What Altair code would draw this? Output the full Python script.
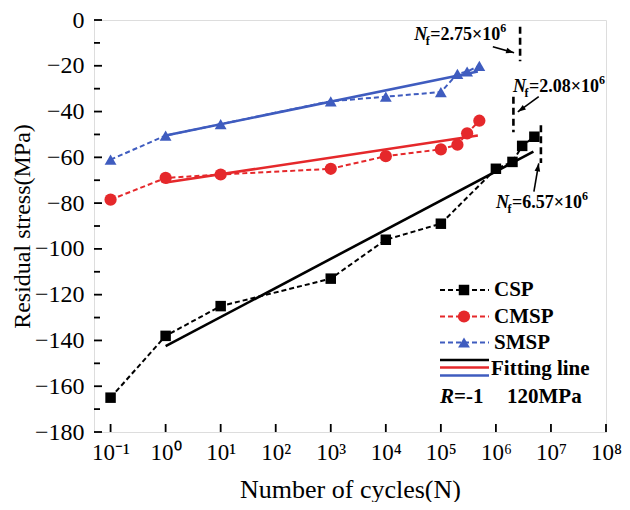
import json
import altair as alt
import pandas as pd

FONT = "Liberation Serif"
BLACK = "#000000"
RED = "#e5282b"
BLUE = "#3f5cbf"

# ---------------- data ----------------
csp_n = [0.1, 1, 10, 1e3, 1e4, 1e5, 1e6, 2e6, 3e6, 5e6]
csp_s = [-165, -138, -125, -113, -96, -89, -65, -62, -55, -51]
cmsp_n = [0.1, 1, 10, 1e3, 1e4, 1e5, 2e5, 3e5, 5e5]
cmsp_s = [-78.5, -69, -67.5, -65, -59.5, -56.5, -54.5, -49.5, -44]
smsp_n = [0.1, 1, 10, 1e3, 1e4, 1e5, 2e5, 3e5, 5e5]
smsp_s = [-61, -50.5, -45.5, -35.5, -33.5, -31.5, -23.5, -22.5, -20]

fit_csp_n = [1, 4.8e6]
fit_csp_s = [-142.5, -57.5]
fit_cmsp_n = [1, 4.7e5]
fit_cmsp_s = [-71, -50.5]
fit_smsp_n = [1, 4.7e5]
fit_smsp_s = [-50.5, -22.5]

nf_values = [6.57e6, 2.08e6, 2.75e6]
nf_top = [-46, -33.5, -3]
nf_bottom = [-62.5, -49, -18]
nf_mantissa = ["6.57", "2.08", "2.75"]
nf_label_n = [1.0e6, 2.04e6, 3.3e4]
nf_label_s = [-82, -31.3, -8.7]
arrow_start_n = [4.9e6, 6.0e6, 8.8e5]
arrow_start_s = [-75, -33.5, -11.7]
arrow_end_n = [6.0e6, 2.5e6, 2.14e6]
arrow_end_s = [-62.6, -40.1, -14.3]
arrow_angle = [10, 235, 106]

x_ticks = [0.1, 1, 10, 1e2, 1e3, 1e4, 1e5, 1e6, 1e7, 1e8]
x_tick_labels = ["10⁻¹", "10⁰", "10¹", "10²", "10³", "10⁴", "10⁵", "10⁶", "10⁷", "10⁸"]
y_major = [0, -20, -40, -60, -80, -100, -120, -140, -160, -180]
y_minor = [-10, -30, -50, -70, -90, -110, -130, -150, -170]

legend_labels = ["CSP", "CMSP", "SMSP"]

# ---------------- scales & axes ----------------
W, H = 512, 412
xs = alt.Scale(type="log", domain=[0.05, 1e8], nice=False)
ys = alt.Scale(domain=[-180, 0], nice=False, zero=False)

label_js = json.dumps(x_tick_labels, ensure_ascii=False)
xaxis = alt.Axis(
    values=x_ticks, ticks=False, domain=False, grid=False,
    labelExpr=f"{label_js}[round(log(datum.value)/LN10)+1]",
    labelFont=FONT, labelFontSize=23, labelFontWeight="normal", labelColor="black",
    labelPadding=9, labelFlush=False, labelOverlap=False,
    title="Number of cycles(N)", titleFont=FONT, titleFontSize=26,
    titleFontWeight="normal", titleColor="black", titleY=57, titleBaseline="middle",
)
yaxis = alt.Axis(
    values=y_major, ticks=False, domain=False, grid=False,
    labelFont=FONT, labelFontSize=24, labelFontWeight="normal", labelColor="black",
    labelPadding=10, labelFlush=False, labelOverlap=False,
    title="Residual stress(MPa)", titleFont=FONT, titleFontSize=24,
    titleFontWeight="normal", titleColor="black", titleX=-72, titleBaseline="middle",
)


def X(field):
    return alt.X(field, type="quantitative", scale=xs, axis=xaxis)


def Y(field):
    return alt.Y(field, type="quantitative", scale=ys, axis=yaxis)


layers = []

# inside ticks
layers.append(alt.Chart(pd.DataFrame({"s": y_major})).mark_rule(color="black", strokeWidth=1.8)
              .encode(y=Y("s"), x=alt.value(0), x2=alt.value(8)))
layers.append(alt.Chart(pd.DataFrame({"s": y_minor})).mark_rule(color="black", strokeWidth=1.8)
              .encode(y=Y("s"), x=alt.value(0), x2=alt.value(6)))
layers.append(alt.Chart(pd.DataFrame({"n": x_ticks})).mark_rule(color="black", strokeWidth=1.8)
              .encode(x=X("n"), y=alt.value(H), y2=alt.value(H - 8)))

# fitting lines
for fn, fs, col in [(fit_csp_n, fit_csp_s, BLACK), (fit_cmsp_n, fit_cmsp_s, RED), (fit_smsp_n, fit_smsp_s, BLUE)]:
    layers.append(alt.Chart(pd.DataFrame({"n": fn, "s": fs})).mark_line(color=col, strokeWidth=2.6)
                  .encode(x=X("n"), y=Y("s")))

# measured series
for n, s, col, shape, size in [
    (csp_n, csp_s, BLACK, "square", 110),
    (cmsp_n, cmsp_s, RED, "circle", 150),
    (smsp_n, smsp_s, BLUE, "triangle-up", 140),
]:
    base = alt.Chart(pd.DataFrame({"n": n, "s": s}))
    layers.append(base.mark_line(color=col, strokeWidth=2, strokeDash=[5, 3]).encode(x=X("n"), y=Y("s")))
    layers.append(base.mark_point(shape=shape, filled=True, size=size, color=col, opacity=1)
                  .encode(x=X("n"), y=Y("s")))

# Nf dashed lines
nf_df = pd.DataFrame({"n": nf_values, "s": nf_top, "s2": nf_bottom})
layers.append(alt.Chart(nf_df).mark_rule(color="black", strokeWidth=2.6, strokeDash=[7, 4])
              .encode(x=X("n"), y=Y("s"), y2="s2"))

# arrows
ar_df = pd.DataFrame({"n": arrow_start_n, "s": arrow_start_s, "n2": arrow_end_n,
                      "s2": arrow_end_s, "ang": arrow_angle})
layers.append(alt.Chart(ar_df).mark_rule(color="black", strokeWidth=1.6)
              .encode(x=X("n"), y=Y("s"), x2="n2", y2="s2"))
layers.append(alt.Chart(ar_df).mark_point(shape="M0,0L0.7,2L-0.7,2Z", filled=True, size=64,
                                           color="black", opacity=1)
              .encode(x=X("n2"), y=Y("s2"), angle=alt.Angle("ang:Q", scale=None)))

# Nf labels
lab_df = pd.DataFrame({"n": nf_label_n, "s": nf_label_s, "m": nf_mantissa})
lab = alt.Chart(lab_df)
common = dict(font=FONT, fontWeight="bold", color="black", align="left", baseline="alphabetic")
layers.append(lab.mark_text(text="N", fontSize=18, fontStyle="italic", **common).encode(x=X("n"), y=Y("s")))
layers.append(lab.mark_text(text="f", fontSize=12, dx=11.5, dy=5, **common).encode(x=X("n"), y=Y("s")))
layers.append(lab.transform_calculate(t="'=' + datum.m + '×10'")
              .mark_text(fontSize=18, dx=16, **common).encode(x=X("n"), y=Y("s"), text="t:N"))
layers.append(lab.mark_text(text="6", fontSize=12, dx=86, dy=-8, **common).encode(x=X("n"), y=Y("s")))

# legend (layout in pixels)
dummy = pd.DataFrame({"a": [0]})
LX0, LX1, LXM, LXT = 346, 395, 370, 400
rows_y = [270, 296.5, 322.5]
for lbl, yy, col, shape, size in zip(legend_labels, rows_y, [BLACK, RED, BLUE],
                                      ["square", "circle", "triangle-up"], [110, 150, 140]):
    layers.append(alt.Chart(dummy).mark_rule(color=col, strokeWidth=2, strokeDash=[5, 3])
                  .encode(x=alt.value(LX0), x2=alt.value(LX1), y=alt.value(yy)))
    layers.append(alt.Chart(dummy).mark_point(shape=shape, filled=True, size=size, color=col, opacity=1)
                  .encode(x=alt.value(LXM), y=alt.value(yy)))
    layers.append(alt.Chart(dummy).mark_text(text=lbl, font=FONT, fontSize=21, fontWeight="bold",
                                             color="black", align="left", baseline="middle")
                  .encode(x=alt.value(LXT), y=alt.value(yy)))
for yy, col in zip([340, 347.5, 355.5], [BLACK, RED, BLUE]):
    layers.append(alt.Chart(dummy).mark_rule(color=col, strokeWidth=2.6)
                  .encode(x=alt.value(LX0), x2=alt.value(LX1), y=alt.value(yy)))
layers.append(alt.Chart(dummy).mark_text(text="Fitting line", font=FONT, fontSize=21, fontWeight="bold",
                                         color="black", align="left", baseline="middle")
              .encode(x=alt.value(LXT - 3), y=alt.value(349)))
for txt, xx, style in [("R", 346, "italic"), ("=-1", 360, "normal"), ("120MPa", 413, "normal")]:
    layers.append(alt.Chart(dummy).mark_text(text=txt, font=FONT, fontSize=21, fontWeight="bold",
                                             fontStyle=style, color="black", align="left",
                                             baseline="middle")
                  .encode(x=alt.value(xx), y=alt.value(377)))

chart = (
    alt.layer(*layers)
    .properties(width=W, height=H, autosize=alt.AutoSizeParams(type="none"),
                padding={"left": 86, "top": 12, "right": 16, "bottom": 70})
    .configure_view(stroke="black", strokeWidth=2)
    .configure(background="white")
)

chart.save("out.html", embed_options={"renderer": "svg", "actions": False})
